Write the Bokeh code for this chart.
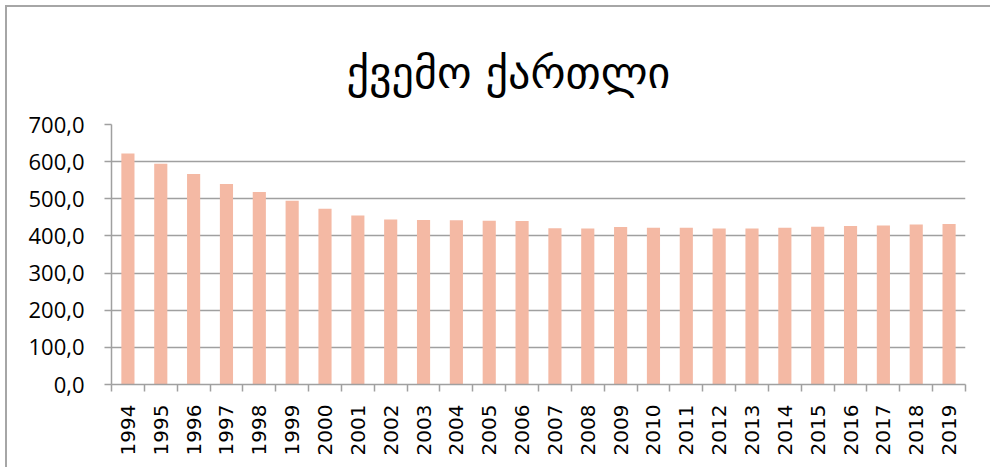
from bokeh.plotting import figure
from bokeh.models import Range1d, FixedTicker, Title
from bokeh.embed import file_html
from bokeh.resources import INLINE

title_text = "ქვემო ქართლი"
years = ["1994", "1995", "1996", "1997", "1998", "1999", "2000", "2001", "2002",
         "2003", "2004", "2005", "2006", "2007", "2008", "2009", "2010", "2011",
         "2012", "2013", "2014", "2015", "2016", "2017", "2018", "2019"]
values = [622, 594, 567, 540, 518, 495, 473, 455, 444, 443, 442, 441, 440,
          421, 420, 424, 422, 422, 420, 420, 422, 425, 427, 428, 431, 432]
y_ticks = [0, 100, 200, 300, 400, 500, 600, 700]
y_tick_labels = ["0,0", "100,0", "200,0", "300,0", "400,0", "500,0", "600,0", "700,0"]

idx = [i + 1 for i in range(len(years))]

p = figure(width=985, height=462, output_backend="svg", toolbar_location=None,
           x_range=Range1d(0.5, len(years) + 0.5), y_range=Range1d(0, 700),
           min_border_left=104, min_border_right=27, min_border_top=117,
           min_border_bottom=85)
p.margin = (5, 0, 0, 5)
p.styles = {"border-left": "2px solid #A6A6A6", "border-top": "2px solid #A6A6A6"}

t = Title(text=title_text, align="left", offset=235, text_font="DejaVu Sans",
          text_font_size="44px", text_font_style="normal", text_color="black",
          vertical_align="top", standoff=50)
p.add_layout(t, "above")

p.vbar(x=idx, top=values, width=0.4, fill_color="#F4B9A4", line_color=None)

p.outline_line_color = None
p.xgrid.grid_line_color = None
p.ygrid.grid_line_color = "#A0A0A0"
p.ygrid.grid_line_width = 1.5
p.ygrid.ticker = FixedTicker(ticks=y_ticks)

# y axis
p.yaxis.ticker = FixedTicker(ticks=y_ticks)
p.yaxis.major_label_overrides = {v: s for v, s in zip(y_ticks, y_tick_labels)}
p.yaxis.axis_line_color = "#A0A0A0"
p.yaxis.axis_line_width = 1.5
p.yaxis.major_tick_line_color = "#A0A0A0"
p.yaxis.major_tick_line_width = 1.5
p.yaxis.major_tick_out = 7
p.yaxis.major_tick_in = 0
p.yaxis.minor_tick_line_color = None
p.yaxis.major_label_text_font = "Open Sans"
p.yaxis.major_label_text_font_size = "22px"
p.yaxis.major_label_text_color = "black"
p.yaxis.major_label_standoff = 20

# x axis
p.xaxis.ticker = FixedTicker(ticks=idx, minor_ticks=[i + 0.5 for i in range(len(years) + 1)])
p.xaxis.major_label_overrides = {i: y for i, y in zip(idx, years)}
p.xaxis.major_label_orientation = 3.14159265 / 2
p.xaxis.axis_line_color = "#A0A0A0"
p.xaxis.axis_line_width = 1.5
p.xaxis.major_tick_line_color = None
p.xaxis.minor_tick_line_color = "#A0A0A0"
p.xaxis.minor_tick_line_width = 1.5
p.xaxis.minor_tick_out = 7
p.xaxis.minor_tick_in = 0
p.xaxis.major_label_text_font = "DejaVu Sans"
p.xaxis.major_label_text_font_size = "20px"
p.xaxis.major_label_text_color = "black"
p.xaxis.major_label_standoff = 13

open("out.html", "w").write(file_html(p, INLINE))
